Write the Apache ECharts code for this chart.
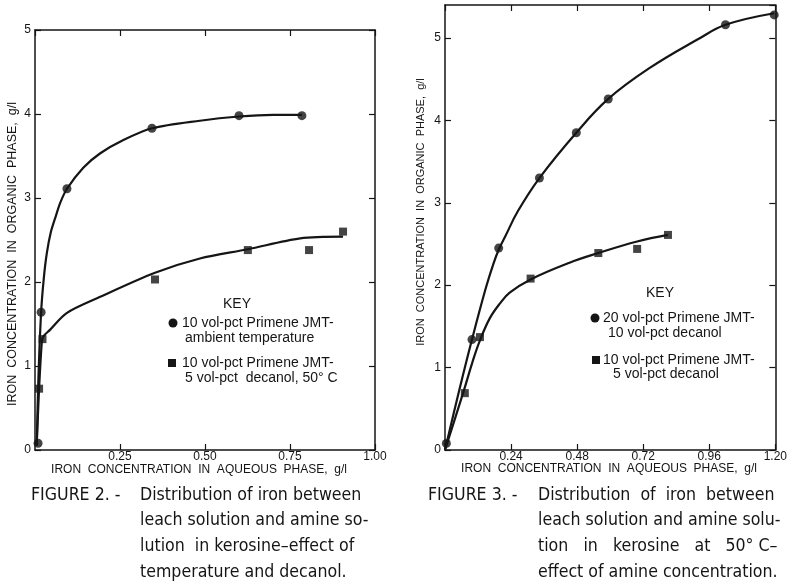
<!DOCTYPE html>
<html>
<head>
<meta charset="utf-8">
<script src="https://cdn.jsdelivr.net/npm/echarts@6/dist/echarts.min.js"></script>
<style>
html,body{margin:0;padding:0;background:#fff;}
#chart{width:790px;height:586px;}
</style>
</head>
<body>
<div id="chart"></div>
<script>
// ---------- Figure 2 data ----------
const fig2Circles = [[0.009,0.08],[0.018,1.64],[0.094,3.11],[0.344,3.83],[0.60,3.98],[0.785,3.98]];
const fig2Squares = [[0.012,0.73],[0.022,1.32],[0.353,2.03],[0.626,2.38],[0.806,2.38],[0.906,2.60]];
const fig2CircleCurve = [[0.005,0.05],[0.010,0.85],[0.018,1.64],[0.026,2.05],[0.035,2.35],[0.047,2.60],[0.060,2.77],[0.075,2.95],[0.094,3.11],[0.142,3.36],[0.191,3.53],[0.260,3.69],[0.344,3.83],[0.485,3.92],[0.600,3.97],[0.700,3.99],[0.785,3.99]];
const fig2SquareCurve = [[0.005,0.05],[0.012,0.73],[0.020,1.28],[0.024,1.35],[0.044,1.43],[0.093,1.63],[0.190,1.82],[0.353,2.11],[0.485,2.28],[0.626,2.39],[0.780,2.52],[0.906,2.54]];
const fig2XTicks = [0, 0.25, 0.50, 0.75, 1.00];
const fig2YTicks = [0, 1, 2, 3, 4, 5];

// ---------- Figure 3 data ----------
const fig3Circles = [[0.005,0.08],[0.098,1.34],[0.195,2.45],[0.343,3.30],[0.477,3.85],[0.593,4.26],[1.019,5.16],[1.196,5.28]];
const fig3Squares = [[0.072,0.69],[0.127,1.37],[0.311,2.08],[0.557,2.39],[0.698,2.44],[0.810,2.61]];
const fig3CircleCurve = [[0,0],[0.050,0.70],[0.098,1.34],[0.147,1.95],[0.175,2.25],[0.195,2.43],[0.220,2.60],[0.265,2.90],[0.343,3.30],[0.477,3.85],[0.593,4.26],[0.741,4.63],[0.922,4.99],[1.019,5.16],[1.196,5.30]];
const fig3SquareCurve = [[0,0],[0.040,0.42],[0.072,0.76],[0.100,1.07],[0.127,1.33],[0.163,1.60],[0.200,1.78],[0.235,1.91],[0.311,2.07],[0.450,2.27],[0.557,2.39],[0.698,2.53],[0.810,2.61]];
const fig3XTicks = [0, 0.24, 0.48, 0.72, 0.96, 1.20];
const fig3YTicks = [0, 1, 2, 3, 4, 5];

// ---------- Text ----------
const xTitle = 'IRON  CONCENTRATION  IN  AQUEOUS  PHASE,  g/l';
const yTitle = 'IRON  CONCENTRATION  IN  ORGANIC  PHASE,  g/l';
const fig2Key = ['10 vol-pct Primene JMT-', 'ambient temperature', '10 vol-pct Primene JMT-', '5 vol-pct  decanol, 50° C'];
const fig3Key = ['20 vol-pct Primene JMT-', '10 vol-pct decanol', '10 vol-pct Primene JMT-', '5 vol-pct decanol'];
const fig2Caption = ['FIGURE 2. -', 'Distribution of iron between', 'leach solution and amine so-', 'lution  in kerosine–effect of', 'temperature and decanol.'];
const fig3Caption = ['FIGURE 3. -', 'Distribution  of  iron  between', 'leach solution and amine solu-', 'tion   in   kerosine   at   50° C–', 'effect of amine concentration.'];

const INK = '#151515';
const tickFont = {fontFamily:'Liberation Sans, Arial, sans-serif', fontSize:12, color:INK};

function xAx(grid, ticks, pos, showLabels) {
  const step = ticks[1]-ticks[0];
  return {
    type:'value', gridIndex:grid, position:pos, min:ticks[0], max:ticks[ticks.length-1], interval:step,
    axisLine:{show:true, onZero:false, lineStyle:{color:INK, width:1.5}},
    axisTick:{show:true, inside:true, length:6, lineStyle:{color:INK, width:1.2}},
    axisLabel:{show:showLabels, showMinLabel:false, margin:1, ...tickFont,
      formatter:v=>v.toFixed(2)},
    splitLine:{show:false}
  };
}
function yAx(grid, ticks, max, pos, showLabels) {
  return {
    type:'value', gridIndex:grid, position:pos, min:ticks[0], max:max, interval:1,
    axisLine:{show:true, onZero:false, lineStyle:{color:INK, width:1.5}},
    axisTick:{show:true, inside:true, length:6, lineStyle:{color:INK, width:1.2}},
    axisLabel:{show:showLabels, showMaxLabel: max===ticks[ticks.length-1], margin:4, ...tickFont},
    splitLine:{show:false}
  };
}
function curve(data, xi, yi, sm) {
  return {type:'line', xAxisIndex:xi, yAxisIndex:yi, data:data, smooth:sm,
    showSymbol:false, symbol:'none', lineStyle:{color:INK, width:2.2}, z:2, silent:true};
}
function pts(data, xi, yi, sym, size) {
  return {type:'scatter', xAxisIndex:xi, yAxisIndex:yi, data:data, symbol:sym, symbolSize:size,
    itemStyle:{color:INK}, z:3, silent:true};
}

const keyFont = 'Liberation Sans, Arial, sans-serif';
function txt(x, y, s, size, opts) {
  return {type:'text', x:x, y:y, style:{text:s, font:(opts&&opts.font)||(size+'px '+keyFont),
    fill:INK, textAlign:(opts&&opts.align)||'left', textVerticalAlign:'middle'}};
}
const capFont = '17.6px "DejaVu Sans Condensed", "Liberation Sans Narrow", "Arial Narrow", sans-serif';

const graphics = [
  // axis titles
  {type:'text', x:199, y:470, style:{text:xTitle, font:'12px '+keyFont, fill:INK, textAlign:'center', textVerticalAlign:'middle'}},
  {type:'text', x:609, y:469, style:{text:xTitle, font:'12px '+keyFont, fill:INK, textAlign:'center', textVerticalAlign:'middle'}},
  {type:'text', x:13, y:254, rotation:Math.PI/2, style:{text:yTitle, font:'12.5px '+keyFont, fill:INK, textAlign:'center', textVerticalAlign:'middle'}},
  {type:'text', x:421, y:212, rotation:Math.PI/2, style:{text:yTitle, font:'11px '+keyFont, fill:INK, textAlign:'center', textVerticalAlign:'middle'}},
  // key fig 2
  txt(237, 304, 'KEY', 14, {align:'center'}),
  {type:'circle', shape:{cx:173, cy:323, r:4.5}, style:{fill:INK}},
  txt(182, 323, fig2Key[0], 14),
  txt(185, 338, fig2Key[1], 14),
  {type:'rect', shape:{x:168, y:359, width:8, height:8}, style:{fill:INK}},
  txt(182, 363, fig2Key[2], 14),
  txt(185, 378, fig2Key[3], 14),
  // key fig 3
  txt(660, 293, 'KEY', 14, {align:'center'}),
  {type:'circle', shape:{cx:595, cy:318, r:4.5}, style:{fill:INK}},
  txt(603, 318, fig3Key[0], 14),
  txt(608, 333, fig3Key[1], 14),
  {type:'rect', shape:{x:592, y:356, width:8, height:8}, style:{fill:INK}},
  txt(603, 360, fig3Key[2], 14),
  txt(613, 374, fig3Key[3], 14),
];
// captions
[[fig2Caption, 31, 140], [fig3Caption, 428, 538]].forEach(([cap, x0, x1]) => {
  graphics.push(txt(x0, 495, cap[0], 18, {font:capFont}));
  for (let i = 1; i < cap.length; i++) {
    graphics.push(txt(x1, 495 + (i-1)*25.7, cap[i], 18, {font:capFont}));
  }
});

const option = {
  backgroundColor:'#fff',
  animation:false,
  grid:[
    {left:35, top:30, width:340, height:420, show:false},
    {left:445, top:5, width:332, height:445, show:false}
  ],
  xAxis:[
    xAx(0, fig2XTicks, 'bottom', true),
    xAx(0, fig2XTicks, 'top', false),
    xAx(1, fig3XTicks, 'bottom', true),
    xAx(1, fig3XTicks, 'top', false)
  ],
  yAxis:[
    yAx(0, fig2YTicks, 5, 'left', true),
    yAx(0, fig2YTicks, 5, 'right', false),
    yAx(1, fig3YTicks, 5.4, 'left', true),
    yAx(1, fig3YTicks, 5.4, 'right', false)
  ],
  series:[
    curve(fig2CircleCurve, 0, 0, 0.3),
    curve(fig2SquareCurve, 0, 0, 0.3),
    pts(fig2Circles, 0, 0, 'circle', 9),
    pts(fig2Squares, 0, 0, 'rect', 8),
    curve(fig3CircleCurve, 2, 2, 0.4),
    curve(fig3SquareCurve, 2, 2, 0.4),
    pts(fig3Circles, 2, 2, 'circle', 9),
    pts(fig3Squares, 2, 2, 'rect', 8)
  ],
  graphic:graphics
};
const chart = echarts.init(document.getElementById('chart'), null, {renderer:'canvas'});
chart.setOption(option);
</script>
</body>
</html>
